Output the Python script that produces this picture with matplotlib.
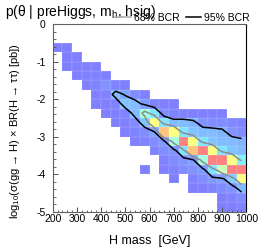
import numpy as np
import matplotlib
matplotlib.use('Agg')
import matplotlib.pyplot as plt
from matplotlib.colors import LinearSegmentedColormap
from matplotlib.lines import Line2D
from matplotlib.ticker import MultipleLocator

plt.rcParams['font.family'] = ['Liberation Sans', 'DejaVu Sans']
plt.rcParams['mathtext.fontset'] = 'custom'
plt.rcParams['mathtext.rm'] = 'Liberation Sans'
plt.rcParams['axes.unicode_minus'] = False

# binning: H mass [GeV] and log10(sigma x BR) [pb]
mass_edges = np.linspace(200, 1000, 21)
xsec_edges = np.linspace(-5, 0, 21)

# posterior density per bin, rows from the top (0 .. -0.25) downwards, 0 = empty
density_rows = [
    [0]*20,
    [0]*20,
    [.05, .05, 0, 0, 0, 0, 0, 0, 0, 0, 0, 0, 0, 0, 0, 0, 0, 0, 0, 0],
    [0, .05, .05, 0, 0, 0, 0, 0, 0, 0, 0, 0, 0, 0, 0, 0, 0, 0, 0, 0],
    [0, .05, .05, .05, .05, 0, 0, 0, 0, 0, 0, 0, 0, 0, 0, 0, 0, 0, 0, 0],
    [0, 0, .05, .05, .06, .05, 0, 0, 0, 0, 0, 0, 0, 0, 0, 0, 0, 0, 0, 0],
    [0, 0, 0, .05, .06, .10, .06, .05, 0, 0, 0, 0, 0, 0, 0, 0, 0, 0, 0, 0],
    [0, 0, 0, 0, .05, .06, .20, .14, .08, .05, 0, 0, 0, 0, 0, 0, 0, 0, 0, 0],
    [0, 0, 0, 0, .05, .05, .06, .22, .20, .12, .06, .05, .05, 0, 0, 0, 0, 0, 0, 0],
    [0, 0, 0, 0, 0, .05, .05, .06, .20, .45, .30, .08, .06, .06, .05, .05, .05, .05, 0, 0],
    [0, 0, 0, 0, 0, 0, .05, .05, .08, .22, .67, .30, .20, .20, .18, .10, .08, .08, .07, .06],
    [0, 0, 0, 0, 0, 0, 0, .05, .06, .08, .14, .83, .67, .30, .22, .20, .20, .18, .10, .08],
    [0, 0, 0, 0, 0, 0, 0, 0, .05, .06, .08, .12, .45, 1.0, .67, .30, .22, .20, .20, .18],
    [0, 0, 0, 0, 0, 0, 0, 0, 0, 0, .06, .08, .10, .30, .83, 1.0, .67, .30, .22, .20],
    [0, 0, 0, 0, 0, 0, 0, 0, 0, 0, 0, .06, .08, .10, .13, .45, 1.0, 1.0, .67, .33],
    [0, 0, 0, 0, 0, 0, 0, 0, 0, .05, 0, .05, .06, .08, .10, .12, .30, .55, 1.0, 1.0],
    [0, 0, 0, 0, 0, 0, 0, 0, 0, 0, 0, 0, .05, 0, .06, .08, .12, .13, .25, .67],
    [0, 0, 0, 0, 0, 0, 0, 0, 0, 0, 0, 0, 0, 0, .05, .05, .06, .08, .10, .20],
    [0, 0, 0, 0, 0, 0, 0, 0, 0, 0, 0, 0, 0, 0, 0, 0, 0, .05, .06, .08],
    [0, 0, 0, 0, 0, 0, 0, 0, 0, 0, 0, 0, 0, 0, 0, 0, 0, .05, .05, .06],
]

bcr_labels = ['68% BCR', '95% BCR']
bcr_levels = [0.38, 0.15]
bcr_colors = ['#8c8c8c', 'black']

title = 'p(θ | preHiggs, m$_{\\mathregular{h}}$, hsig)'
xlabel = 'H mass  [GeV]'
ylabel = 'log$_{\\mathregular{10}}$(σ(gg → H) × BR(H → ττ) [pb])'

Z = np.array(density_rows, dtype=float)[::-1]
Zm = np.ma.masked_where(Z <= 0, Z)
xc = 0.5 * (mass_edges[:-1] + mass_edges[1:])
yc = 0.5 * (xsec_edges[:-1] + xsec_edges[1:])

cmap = LinearSegmentedColormap.from_list(
    'pastel', ['#8080ff', '#80ffff', '#ffff80', '#ff8080'])

fig = plt.figure(figsize=(2.74, 2.48), dpi=100)
ax = fig.add_axes([52.7/274, 1-211.5/248, 193.6/274, 187.2/248])

ax.pcolormesh(mass_edges, xsec_edges, Zm, cmap=cmap, vmin=0.05, vmax=1.0,
              edgecolors=(1, 1, 1, 0.06), linewidth=0.3)

for lev, col in zip(bcr_levels, bcr_colors):
    ax.contour(xc, yc, Z, levels=[lev], colors=[col], linewidths=1.1)

ax.set_xlim(200, 1000)
ax.set_ylim(-5, 0)
ax.xaxis.set_major_locator(MultipleLocator(100))
ax.xaxis.set_minor_locator(MultipleLocator(20))
ax.yaxis.set_major_locator(MultipleLocator(1))
ax.yaxis.set_minor_locator(MultipleLocator(0.2))
ax.tick_params(which='both', direction='in', top=False, right=False,
               labelsize=7.5, color='#505050')
ax.tick_params(which='major', length=3.5, width=0.7)
ax.tick_params(which='minor', length=1.8, width=0.6)
ax.tick_params(axis='x', pad=2)
ax.tick_params(axis='y', pad=5)
for s in ['left', 'bottom', 'top']:
    ax.spines[s].set_color('#606060')
    ax.spines[s].set_linewidth(0.8)
ax.spines['right'].set_color('black')
ax.spines['right'].set_linewidth(0.8)

ax.set_xlabel(xlabel, fontsize=9)
ax.xaxis.set_label_coords(0.5, -0.125)
ax.set_ylabel(ylabel, fontsize=8)
ax.yaxis.set_label_coords(-0.16, 0.43)

fig.text(5/274, 1-12/248, title, ha='left', va='center', fontsize=10)

handles = [Line2D([], [], color=c, lw=1.1) for c in ['#aaaaaa', 'black']]
fig.legend(handles, bcr_labels, loc='center right',
           bbox_to_anchor=(250/274, 1-18/248), ncol=2, frameon=False,
           fontsize=7.5, handlelength=1.5, handletextpad=0.3,
           columnspacing=0.6, borderpad=0, borderaxespad=0)

fig.savefig('out.png', dpi=100)
